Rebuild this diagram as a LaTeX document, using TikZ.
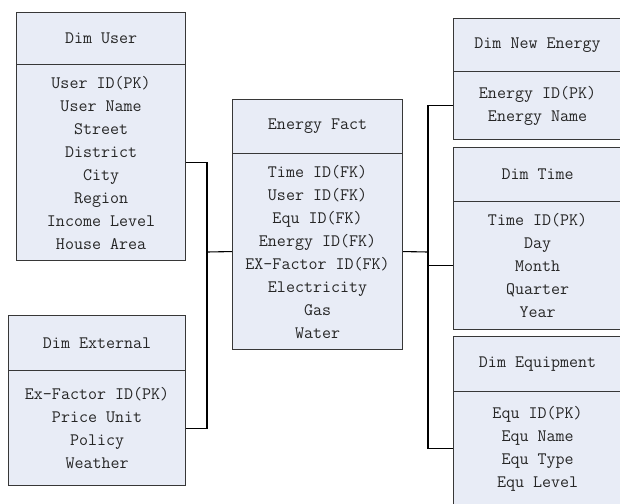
\documentclass[tikz,border=0pt]{standalone}
\usepackage{fontspec}
\definecolor{tblfill}{RGB}{232,236,246}
\definecolor{bordc}{RGB}{55,55,55}
\tikzset{
  tbl/.style={draw=bordc, fill=tblfill, line width=1.1pt, inner sep=0pt, anchor=north west,
    font=\fontsize{17.5pt}{23pt}\selectfont\ttfamily, align=center, text=black!85},
  conn/.style={draw=black, line width=1.1pt}
}
\begin{document}
\begin{tikzpicture}[x=1pt,y=-1pt]
\useasboundingbox (0,0) rectangle (620,503);
% Dim User
\node[tbl, minimum width=169pt, minimum height=52pt] (userH) at (16,12) {Dim User};
\node[tbl, minimum width=169pt, minimum height=196pt] (userB) at (16,64)
  {User ID(PK)\\User Name\\Street\\District\\City\\Region\\Income Level\\House Area};
% Dim External
\node[tbl, minimum width=177pt, minimum height=55pt] (extH) at (8,315) {Dim External};
\node[tbl, minimum width=177pt, minimum height=115pt] (extB) at (8,370)
  {Ex-Factor ID(PK)\\Price Unit\\Policy\\Weather};
% Energy Fact
\node[tbl, minimum width=170pt, minimum height=54pt] (factH) at (232,99) {Energy Fact};
\node[tbl, minimum width=170pt, minimum height=196pt] (factB) at (232,153)
  {Time ID(FK)\\User ID(FK)\\Equ ID(FK)\\Energy ID(FK)\\EX-Factor ID(FK)\\Electricity\\Gas\\Water};
% Dim New Energy
\node[tbl, minimum width=168pt, minimum height=53pt] (newH) at (453,18) {Dim New Energy};
\node[tbl, minimum width=168pt, minimum height=68pt] (newB) at (453,71)
  {Energy ID(PK)\\Energy Name};
% Dim Time
\node[tbl, minimum width=168pt, minimum height=54pt] (timeH) at (453,147) {Dim Time};
\node[tbl, minimum width=168pt, minimum height=128pt] (timeB) at (453,201)
  {Time ID(PK)\\Day\\Month\\Quarter\\Year};
% Dim Equipment
\node[tbl, minimum width=168pt, minimum height=55pt] (equH) at (453,336) {Dim Equipment};
\node[tbl, minimum width=168pt, minimum height=114pt] (equB) at (453,391)
  {Equ ID(PK)\\Equ Name\\Equ Type\\Equ Level};
% buses
\coordinate (lbus) at (207,252);
\coordinate (rbus) at (428,252);
\draw[conn] (userB.east) -| (lbus) |- (extB.east);
\draw[conn] (lbus) -- (factB.west);
\draw[conn] (factB.east) -- (rbus);
\draw[conn] (newB.west) -| (rbus) |- (equB.west);
\draw[conn] (rbus) |- (timeB.west);
\end{tikzpicture}
\end{document}
